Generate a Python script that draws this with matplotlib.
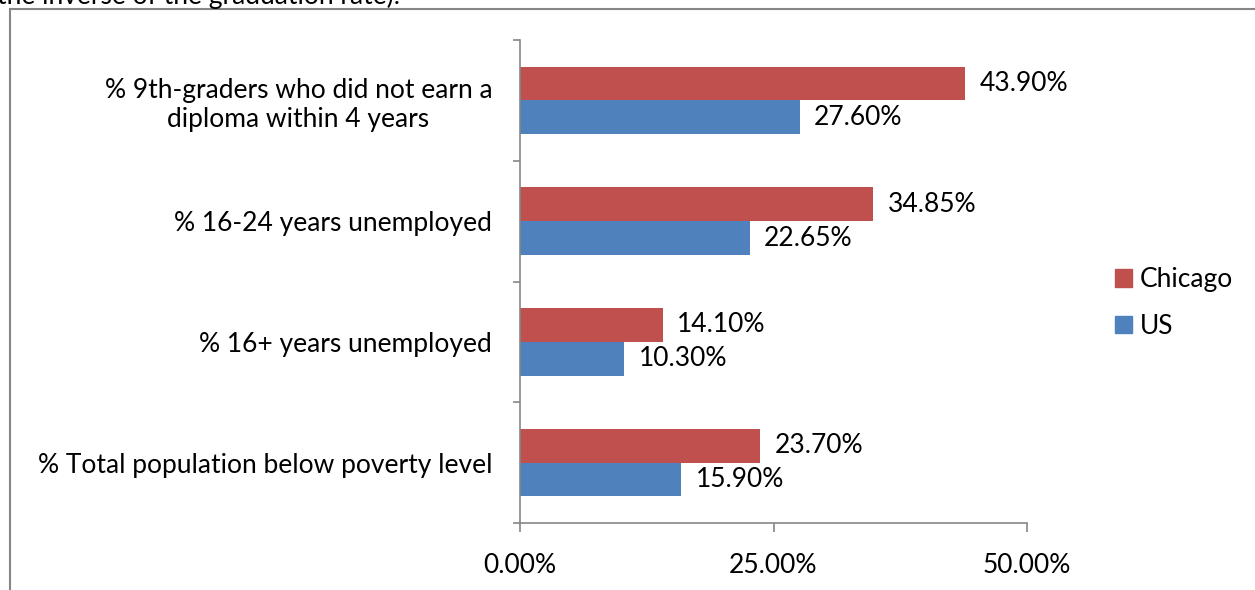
import matplotlib
matplotlib.use("Agg")
import matplotlib.pyplot as plt
from matplotlib.lines import Line2D
from matplotlib.patches import Patch
import numpy as np

categories = ["% Total population below poverty level",
              "% 16+ years unemployed",
              "% 16-24 years unemployed",
              "% 9th-graders who did not earn a\ndiploma within 4 years"]
chicago = [0.237, 0.141, 0.3485, 0.439]
us = [0.159, 0.103, 0.2265, 0.276]
xticks = [0.0, 0.25, 0.5]
xticklabels = ["0.00%", "25.00%", "50.00%"]

plt.rcParams['font.family'] = ['Lato', 'DejaVu Sans']
FS = 19
C_CHI = "#C0504D"
C_US = "#4F81BD"
GRAY = "#868686"

fig = plt.figure(figsize=(12.55, 5.9), dpi=100)
ax = fig.add_axes([520/1255, 1-523/590, (1027-520)/1255, (523-40)/590])

y = np.arange(len(categories))
h = 0.28
ax.barh(y + h/2, chicago, height=h, color=C_CHI, zorder=2)
ax.barh(y - h/2, us, height=h, color=C_US, zorder=2)

for yi, v in zip(y, chicago):
    ax.text(v + 0.014, yi + h/2, f"{v*100:.2f}%", va='center', ha='left', fontsize=FS)
for yi, v in zip(y, us):
    ax.text(v + 0.014, yi - h/2, f"{v*100:.2f}%", va='center', ha='left', fontsize=FS)

ax.set_xlim(0, 0.5)
ax.set_ylim(-0.5, len(categories) - 0.5)
ax.set_xticks(xticks)
ax.set_xticklabels(xticklabels, fontsize=FS)
ax.set_yticks(y)
ax.set_yticklabels(categories, fontsize=FS, multialignment='center')
ax.tick_params(axis='y', length=0, pad=20)
ax.set_yticks(np.arange(-0.5, len(categories)), minor=True)
ax.tick_params(axis='y', which='minor', length=5, color=GRAY, width=1.2, direction='out')
ax.tick_params(axis='x', length=6.5, color=GRAY, width=1.2, direction='out', pad=15)
for s in ['top', 'right']:
    ax.spines[s].set_visible(False)
for s in ['left', 'bottom']:
    ax.spines[s].set_color(GRAY)
    ax.spines[s].set_linewidth(1.2)

handles = [Patch(color=C_CHI, label="Chicago"), Patch(color=C_US, label="US")]
fig.legend(handles=handles, loc='center left', bbox_to_anchor=(1115/1255, 1-303/590),
           frameon=False, fontsize=FS, handlelength=0.64, handleheight=0.64,
           handletextpad=0.3, labelspacing=0.8, borderpad=0, borderaxespad=0)

# outer chart border (cropped)
fig.add_artist(Line2D([10/1255, 10/1255], [0, 1-9/590], transform=fig.transFigure,
                      color=GRAY, lw=1.5))
fig.add_artist(Line2D([10/1255, 1], [1-9/590, 1-9/590], transform=fig.transFigure,
                      color=GRAY, lw=1.5))
# text from the page above, cropped at the top edge as in the source
fig.text(-0.002, 1 - 4/590, "the inverse of the graduation rate).", fontsize=FS,
         va='baseline', ha='left')

fig.savefig("out.png", dpi=100, facecolor='white')
